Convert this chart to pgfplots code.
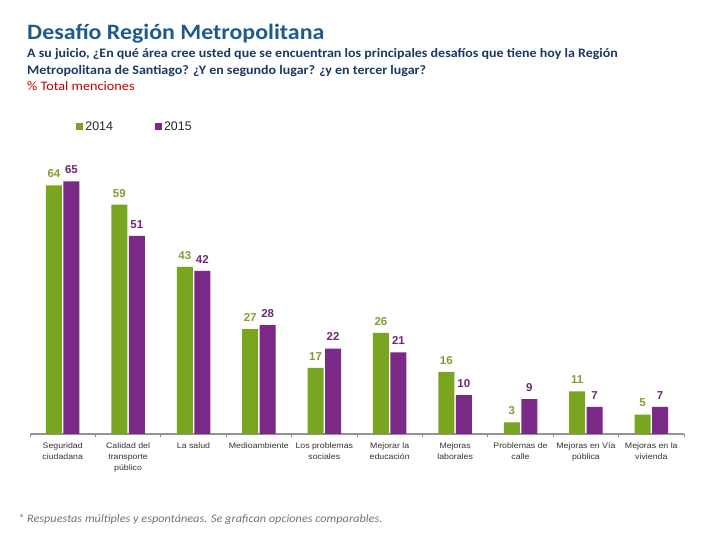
\documentclass[border=0pt]{standalone}
\usepackage{pgfplots}
\pgfplotsset{compat=1.18}
\usepackage{fontspec}
\setmainfont{Carlito}
\newfontfamily\arial{Liberation Sans}
\definecolor{cgreen}{RGB}{122,165,32}
\definecolor{cpurple}{RGB}{122,42,134}
\definecolor{lgreen}{RGB}{128,156,50}
\definecolor{lpurple}{RGB}{108,40,112}
\definecolor{ctitle}{RGB}{31,90,140}
\definecolor{csub}{RGB}{25,58,98}
\definecolor{cred}{RGB}{192,0,0}
\begin{document}
\begin{tikzpicture}[x=1bp,y=1bp]
\path[use as bounding box] (0,0) rectangle (720,540);
\node[anchor=base west, inner sep=0, text=ctitle, font=\fontsize{22}{26}\selectfont\bfseries, xscale=1.09] at (27,500) {Desafío Región Metropolitana};
\node[anchor=base west, inner sep=0, text=csub, font=\fontsize{13}{15}\selectfont\bfseries, xscale=1.08] at (27,482) {A su juicio, ¿En qué área cree usted que se encuentran los principales desafíos que tiene hoy la Región};
\node[anchor=base west, inner sep=0, text=csub, font=\fontsize{13}{15}\selectfont\bfseries, xscale=1.08] at (27,465) {Metropolitana de Santiago? ¿Y en segundo lugar? ¿y en tercer lugar?};
\node[anchor=base west, inner sep=0, text=cred, font=\fontsize{13}{15}\selectfont, xscale=1.1] at (27,449) {\% Total menciones};
\node[anchor=base west, inner sep=0, text=black!55, font=\fontsize{11.5}{13}\selectfont\itshape, xscale=1.07] at (18,17) {* Respuestas múltiples y espontáneas. Se grafican opciones comparables.};
\begin{axis}[
  at={(30bp,106bp)}, anchor=south west,
  scale only axis, width=654bp, height=272bp,
  ybar=1.5bp, bar width=16bp,
  xmin=-0.5, xmax=9.5, ymin=0, ymax=70,
  clip=false,
  /pgf/number format/assume math mode=true,
  axis y line=none,
  axis x line*=bottom,
  axis line style={draw=black!42, line width=1.5pt, -},
  xtick=data,
  major tick length=0pt,
  xticklabels={Seguridad\\ciudadana, Calidad del\\transporte\\público, La salud, Medioambiente, Los problemas\\sociales, Mejorar la\\educación, Mejoras\\laborales, Problemas de\\calle, Mejoras en Vía\\pública, Mejoras en la\\vivienda},
  xticklabel style={align=center, font=\arial\fontsize{8}{11}\selectfont, text=black!80, anchor=north, yshift=-5.5bp, xscale=1.1},
  extra x ticks={-0.5,0.5,1.5,2.5,3.5,4.5,5.5,6.5,7.5,8.5,9.5},
  extra x tick labels={},
  extra x tick style={major tick length=3bp, tick align=outside, tick style={draw=black!45, line width=0.8pt}},
  nodes near coords,
  legend columns=2,
  legend style={at={(0.066,1.129)}, anchor=west, draw=none, fill=none,
    font=\arial\fontsize{12.5}{14}\selectfont, text=black!85,
    /tikz/every even column/.append style={column sep=40bp}},
  legend image code/.code={\fill[#1] (0bp,-3.2bp) rectangle (7bp,3.8bp);},
]
\addplot[fill=cgreen, draw=none, every node near coord/.append style={text=lgreen, font=\arial\bfseries\fontsize{11.5}{13}\selectfont, yshift=4bp}]
  coordinates {(0,64) (1,59) (2,43) (3,27) (4,17) (5,26) (6,16) (7,3) (8,11) (9,5)};
\addplot[fill=cpurple, draw=none, every node near coord/.append style={text=lpurple, font=\arial\bfseries\fontsize{11.5}{13}\selectfont, yshift=4bp}]
  coordinates {(0,65) (1,51) (2,42) (3,28) (4,22) (5,21) (6,10) (7,9) (8,7) (9,7)};
\legend{2014, 2015}
\end{axis}
\end{tikzpicture}
\end{document}
